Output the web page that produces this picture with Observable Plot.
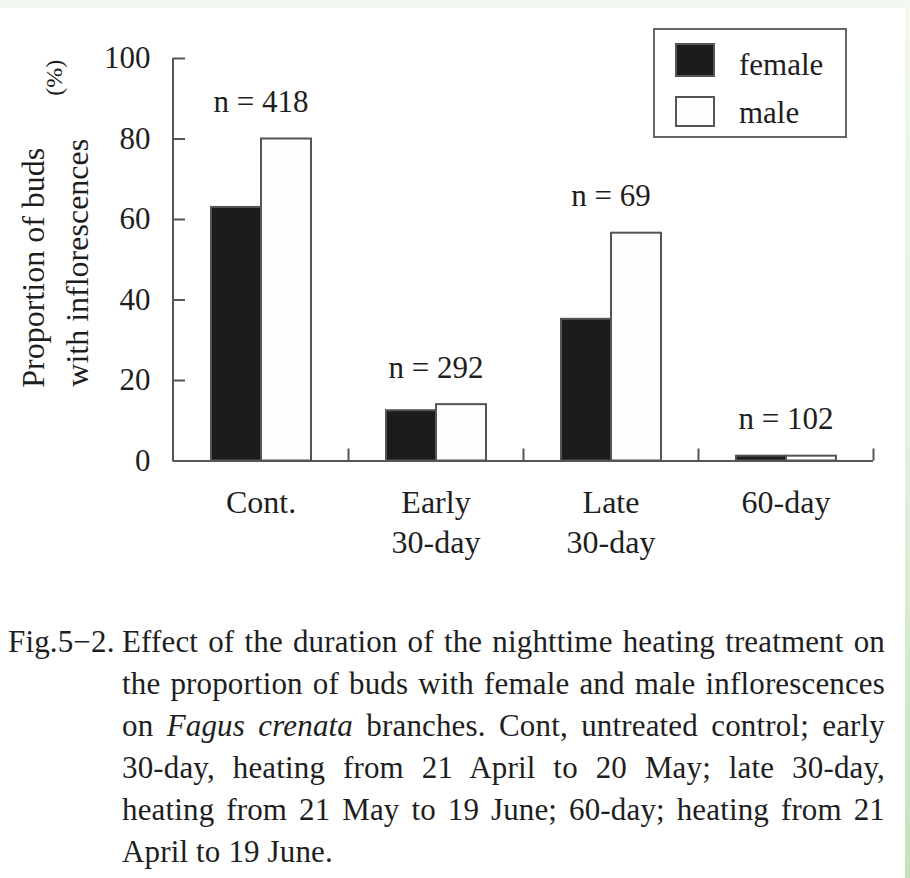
<!DOCTYPE html>
<html>
<head>
<meta charset="utf-8">
<script src="https://cdn.jsdelivr.net/npm/d3@7"></script>
<script src="https://cdn.jsdelivr.net/npm/@observablehq/plot@0.6"></script>
<style>
  html, body { margin: 0; padding: 0; }
  body {
    width: 910px; height: 878px; overflow: hidden;
    background: linear-gradient(to bottom, #f3f8f1 0%, #e3f1df 50%, #c4e3bc 100%);
    font-family: "Liberation Serif", "Times New Roman", serif;
    color: #1e1e1e;
  }
  #page { position: absolute; left: 0; top: 8px; width: 905px; height: 870px; background: #fff; }
  #chart { position: absolute; left: 0; top: 0; }
  #legend {
    position: absolute; left: 653px; top: 20px; width: 190px; height: 106px;
    border: 2px solid #666; background: #fff;
  }
  .sw { position: absolute; left: 20px; width: 40px; box-sizing: border-box; border: 2px solid #555; }
  .lt { position: absolute; left: 84px; font-size: 31px; line-height: 1; }
  #caption { position: absolute; left: 0; top: 613px; width: 905px; font-size: 31px; line-height: 42px; letter-spacing: 0.15px; }
  .cl { position: absolute; left: 122px; width: 763px; white-space: nowrap; text-align: justify; text-align-last: justify; }
  .cl.last { text-align: left; text-align-last: left; }
  .fig { position: absolute; left: 8px; }
</style>
</head>
<body>
<div id="page">
  <div id="chart"></div>
  <div id="legend">
    <div class="sw" style="top:13px;height:34px;background:#1c1c1c;"></div>
    <div class="lt" style="top:19px;">female</div>
    <div class="sw" style="top:66px;height:31px;background:#fefefe;"></div>
    <div class="lt" style="top:67px;">male</div>
  </div>
  <div id="caption">
    <div class="fig" style="top:0px;">Fig.5−2.</div>
    <div class="cl" style="top:0px;">Effect of the duration of the nighttime heating treatment on</div>
    <div class="cl" style="top:42px;">the proportion of buds with female and male inflorescences</div>
    <div class="cl" style="top:84px;">on <i>Fagus crenata</i> branches. Cont, untreated control; early</div>
    <div class="cl" style="top:126px;">30-day, heating from 21 April to 20 May; late 30-day,</div>
    <div class="cl" style="top:168px;">heating from 21 May to 19 June; 60-day; heating from 21</div>
    <div class="cl last" style="top:210px;">April to 19 June.</div>
  </div>
</div>
<script>
// ---- data ----
const categories = ["Cont.", "Early\n30-day", "Late\n30-day", "60-day"];
const sexes = ["female", "male"];
const femaleValues = [63, 12.5, 35.2, 1.2];
const maleValues = [80, 14, 56.6, 1.2];
const sampleSizes = [418, 292, 69, 102];
const yTicks = [0, 20, 40, 60, 80, 100];
const yLabelLines = ["Proportion of buds", "with inflorescences"];
const yLabelUnit = "(%)";

// ---- derived tables ----
const bars = categories.flatMap((c, i) => [
  {category: c, sex: sexes[0], value: femaleValues[i]},
  {category: c, sex: sexes[1], value: maleValues[i]}
]);
const nLabels = categories.map((c, i) => ({
  category: c, label: `n = ${sampleSizes[i]}`, top: Math.max(femaleValues[i], maleValues[i])
}));

// ---- layout ----
const W = 905, H = 572, mL = 173, mR = 32, mT = 50, mB = 119.5;
const facetW = (W - mL - mR) / categories.length;
const axisColor = "#555";
const first = () => categories[0];
const yLab = {fx: first, frameAnchor: "left", rotate: -90, text: d => d, textAnchor: "middle", lineAnchor: "bottom"};

const chart = Plot.plot({
  width: W, height: H,
  marginLeft: mL, marginRight: mR, marginTop: mT, marginBottom: mB,
  style: {fontFamily: "'Liberation Serif', 'Times New Roman', serif", background: "transparent", color: "#1e1e1e", overflow: "visible"},
  fx: {domain: categories, padding: 0, axis: null, label: null},
  x: {domain: sexes, paddingInner: 0, paddingOuter: 0.733, axis: null, label: null},
  y: {domain: [0, 100], axis: null, label: null},
  color: {domain: sexes, range: ["#1c1c1c", "#fefefe"]},
  marks: [
    Plot.barY(bars, {fx: "category", x: "sex", y: "value", fill: "sex", stroke: "#555", strokeWidth: 2}),
    Plot.ruleY([0], {stroke: axisColor, strokeWidth: 2}),
    Plot.axisY({ticks: yTicks, tickSize: -12, tickPadding: 35, stroke: axisColor, strokeWidth: 2,
                fontSize: 31, label: null, tickFormat: d => String(d)}),
    Plot.axisFx({anchor: "bottom", tickSize: -12, dx: facetW / 2, fill: "none", stroke: axisColor, strokeWidth: 2, label: null}),
    Plot.axisFx({anchor: "bottom", tickSize: 0, tickPadding: 24, fontSize: 32, lineHeight: 1.24, label: null}),
    Plot.text(nLabels, {fx: "category", y: "top", text: "label", dy: -27, lineAnchor: "bottom", fontSize: 31}),
    Plot.text([yLabelLines[0]], {...yLab, fontSize: 32, dx: -130, dy: 8}),
    Plot.text([yLabelLines[1]], {...yLab, fontSize: 32, dx: -86, dy: 3}),
    Plot.text([yLabelUnit], {...yLab, fontSize: 24, dx: -112, dy: -182})
  ]
});

// y-axis line, placed with the chart's own y scale
const ys = chart.scale("y");
d3.select(chart).append("line")
  .attr("x1", mL).attr("x2", mL)
  .attr("y1", ys.apply(ys.domain[0]) + 1).attr("y2", ys.apply(ys.domain[1]))
  .attr("stroke", axisColor).attr("stroke-width", 2);

document.getElementById("chart").appendChild(chart);
</script>
</body>
</html>
